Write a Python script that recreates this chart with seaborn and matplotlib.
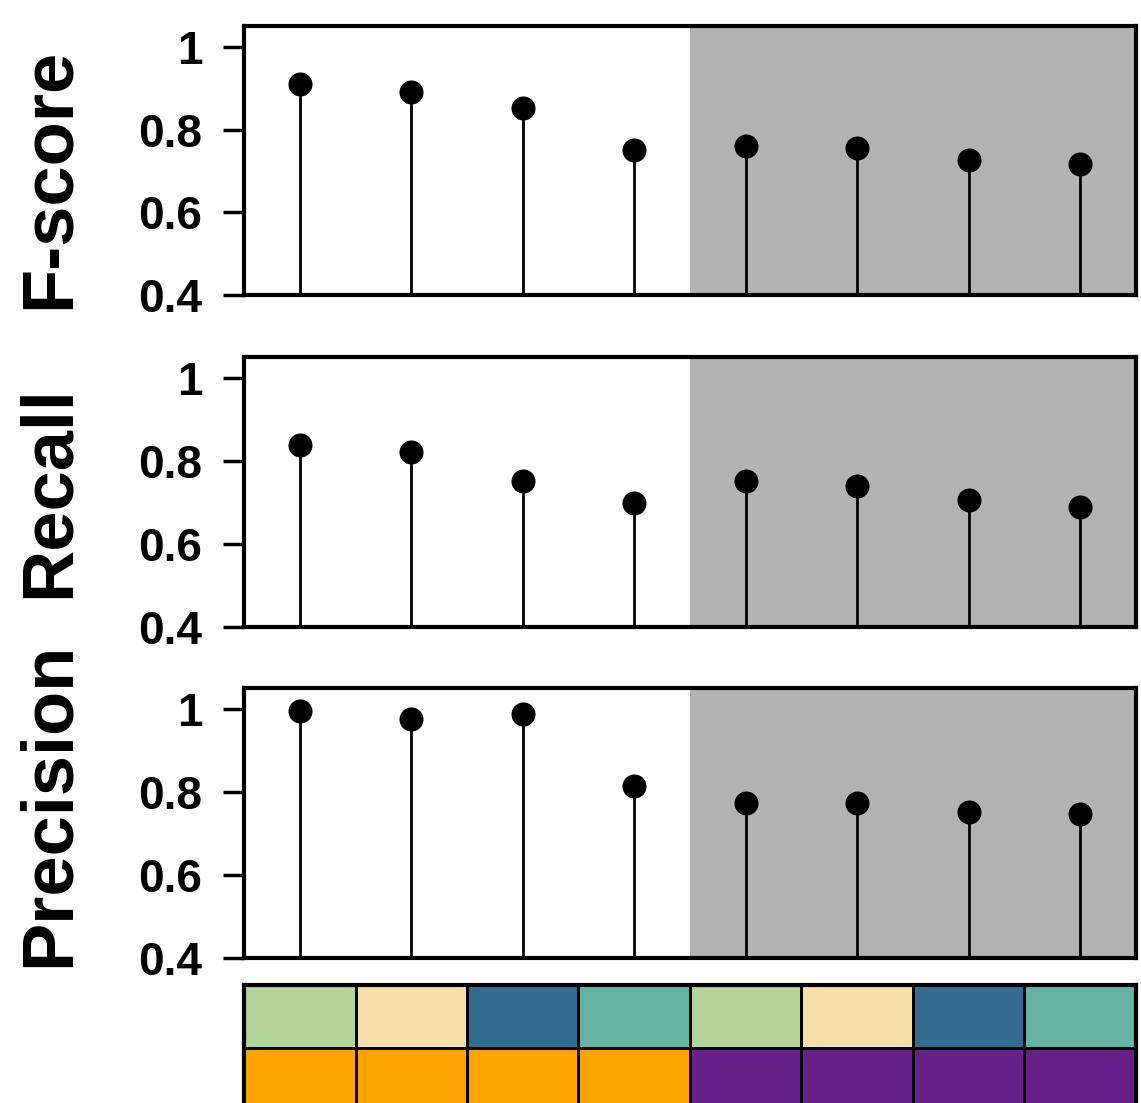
import numpy as np
import pandas as pd
import matplotlib
matplotlib.use("Agg")
import matplotlib.pyplot as plt
from matplotlib.colors import ListedColormap
import seaborn as sns

sns.set_style("white")
plt.rcParams['font.family'] = ['Liberation Sans', 'DejaVu Sans']

# values
methods = ["m1", "m2", "m3", "m4", "m5", "m6", "m7", "m8"]
fscore = [0.911, 0.891, 0.852, 0.751, 0.760, 0.756, 0.727, 0.717]
recall = [0.840, 0.823, 0.751, 0.700, 0.751, 0.741, 0.707, 0.690]
precision = [0.995, 0.976, 0.988, 0.814, 0.773, 0.773, 0.751, 0.746]
metric_names = ["F-score", "Recall", "Precision"]

# annotation rows under the panels (category codes)
row_top = [0, 1, 2, 3, 0, 1, 2, 3]
row_bottom = [4, 4, 4, 4, 5, 5, 5, 5]
anno_colors = ["#b2d49a", "#f5dfa6", "#336b8f", "#66b3a3", "#ffa500", "#67228a"]

W, H = 1141, 1103
fig = plt.figure(figsize=(W / 100, H / 100), dpi=100)

left = 244 / W
width = 892 / W
panel_px = [(26, 295), (357, 627), (688, 958)]
label_y = [178, 492, 804]
series = [fscore, recall, precision]

for (top, bot), vals, name, ly in zip(panel_px, series, metric_names, label_y):
    ax = fig.add_axes([left, 1 - bot / H, width, (bot - top) / H])
    df = pd.DataFrame({"x": np.arange(len(methods)), "y": vals})
    ax.axvspan(3.5, 7.5, color="#b3b3b3", lw=0, zorder=0)
    ax.vlines(df["x"], 0.4, df["y"], color="black", lw=2, zorder=2)
    sns.scatterplot(data=df, x="x", y="y", ax=ax, color="black", s=300,
                    edgecolor="black", linewidth=0, zorder=3, legend=False)
    ax.set_xlim(-0.5, 7.5)
    ax.set_ylim(0.4, 1.051)
    ax.set_yticks([0.4, 0.6, 0.8, 1.0])
    ax.set_yticklabels(["0.4", "0.6", "0.8", "1"], fontsize=33,
                       fontweight="bold", color="black")
    ax.set_xticks([])
    ax.set_xlabel("")
    ax.set_ylabel("")
    ax.tick_params(axis="y", direction="out", length=15, width=2.5, pad=15,
                   left=True, color="black")
    for sp in ax.spines.values():
        sp.set_visible(True)
        sp.set_linewidth(3)
        sp.set_color("black")
    fig.text(50 / W, 1 - ly / H, name, rotation=90, ha="center", va="center",
             fontsize=52, fontweight="bold", color="black")

# annotation grid (bottom row runs off the figure edge)
gax = fig.add_axes([left, -8 / H, width, 126 / H])
grid = pd.DataFrame([row_top, row_bottom], columns=methods)
sns.heatmap(grid, ax=gax, cmap=ListedColormap(anno_colors), vmin=-0.5, vmax=5.5,
            cbar=False, linewidths=2, linecolor="black", xticklabels=False,
            yticklabels=False)
gax.set_ylim(2, 0)
gax.set_xlabel("")
gax.set_ylabel("")
for sp in gax.spines.values():
    sp.set_visible(True)
    sp.set_linewidth(3)
    sp.set_color("black")

fig.savefig("out.png", dpi=100)
